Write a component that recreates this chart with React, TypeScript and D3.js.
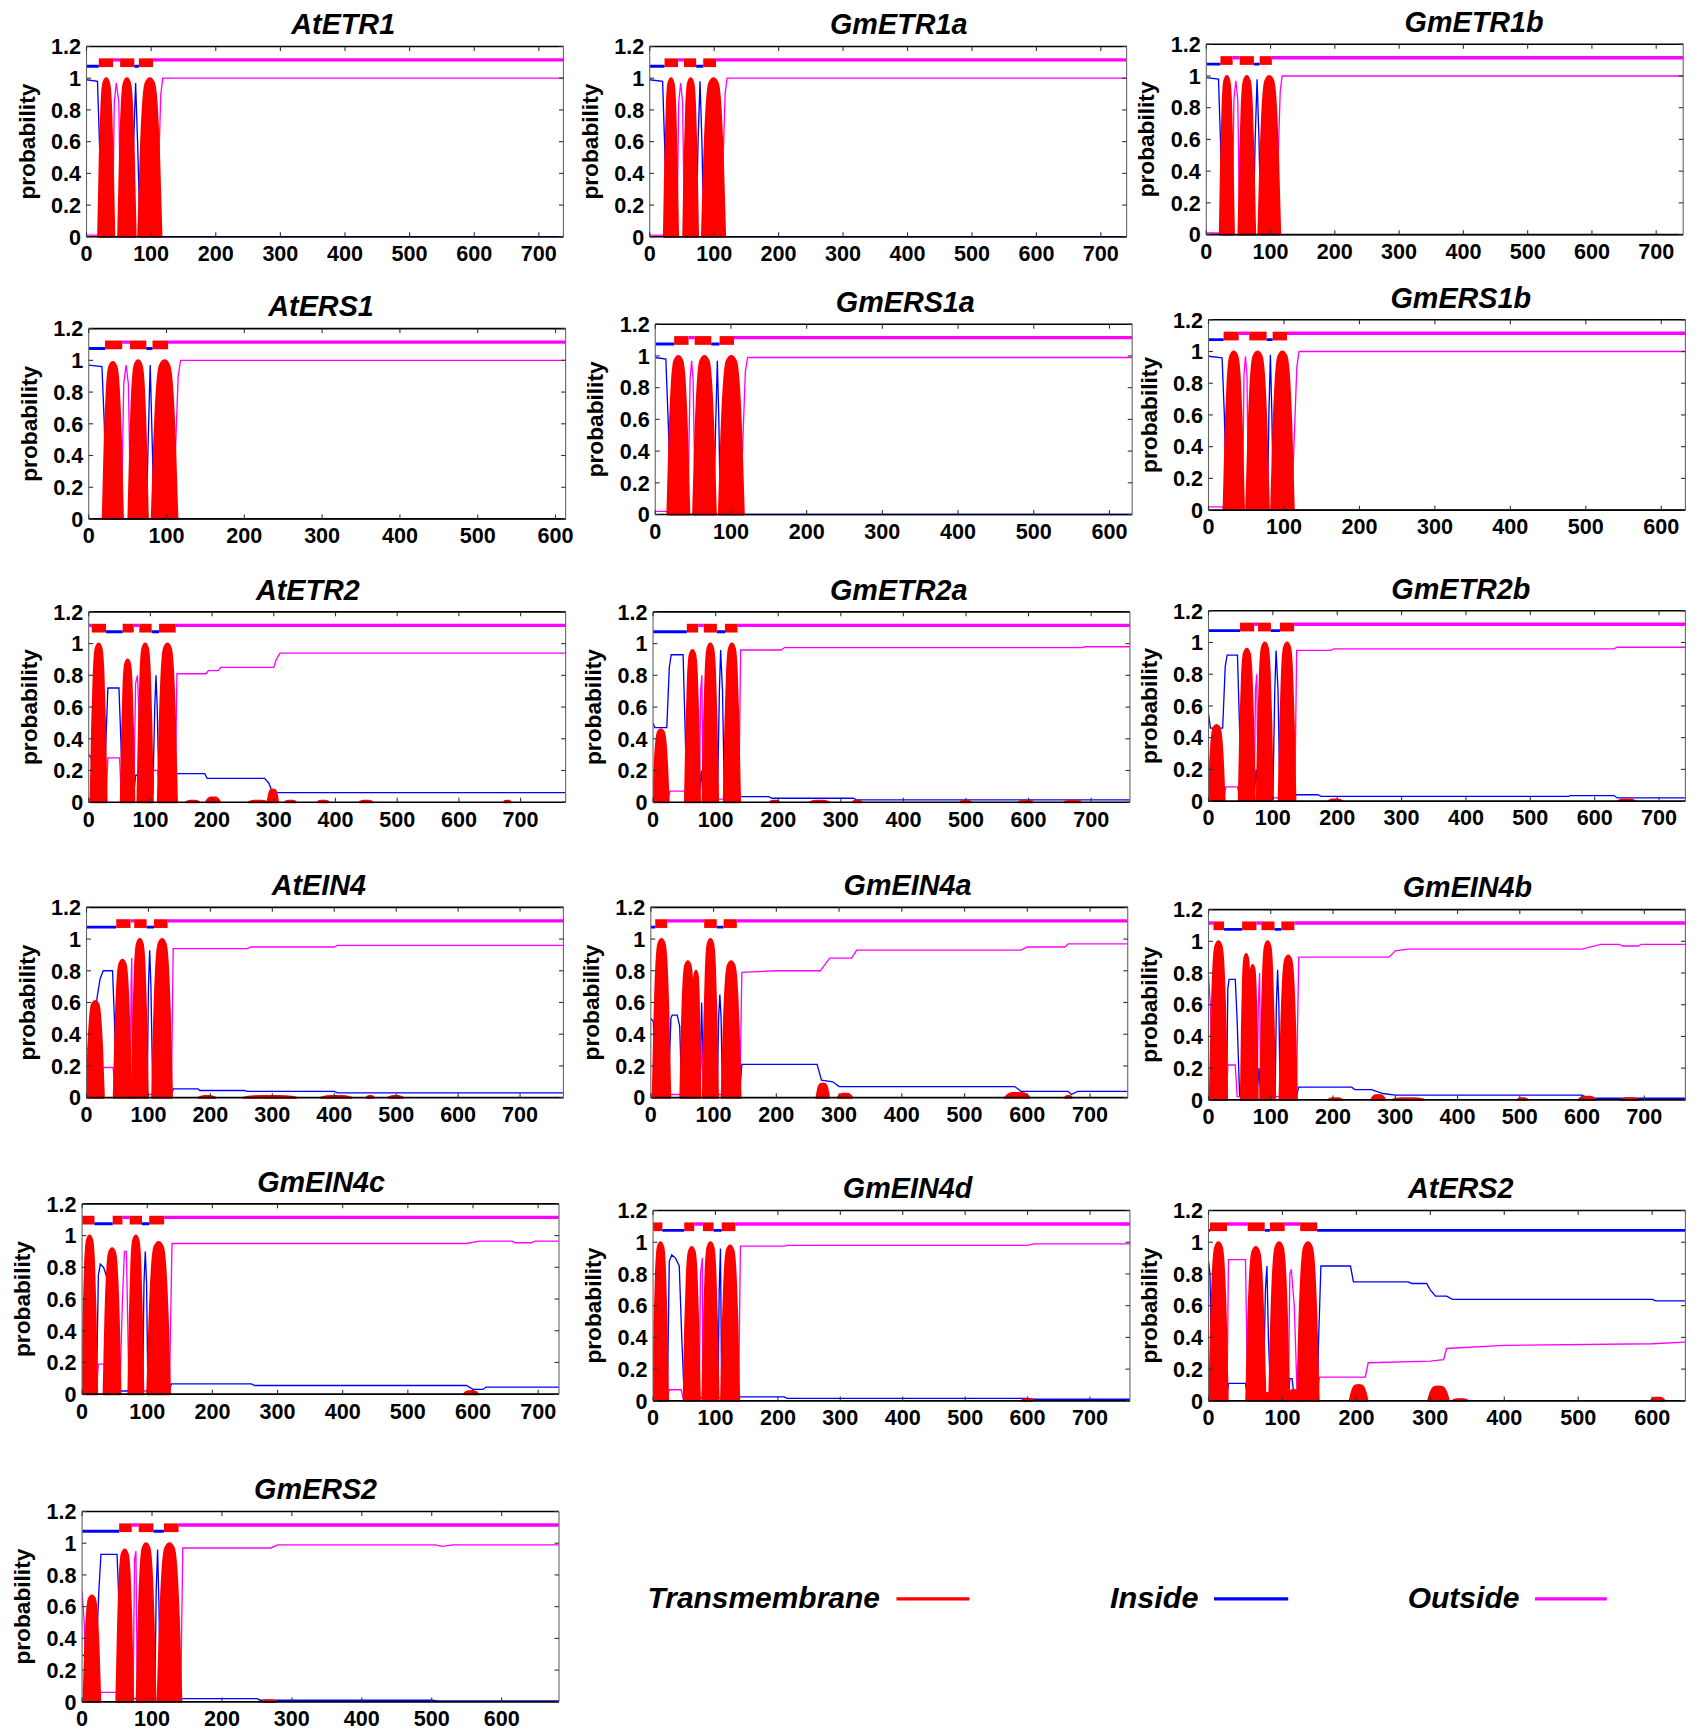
import React from "react";
import * as d3 from "d3";

// ---------------- DATA ----------------
const NAMES = ["AtETR1","GmETR1a","GmETR1b","AtERS1","GmERS1a","GmERS1b","AtETR2","GmETR2a","GmETR2b","AtEIN4","GmEIN4a","GmEIN4b","GmEIN4c","GmEIN4d","AtERS2","GmERS2"];
const LENGTHS = [738, 740, 742, 613, 630, 632, 773, 762, 741, 770, 760, 766, 732, 764, 645, 682];
const Y_TICKS = [0, 0.2, 0.4, 0.6, 0.8, 1, 1.2];

// predicted topology: [start, end, kind]  i = inside, o = outside, M = transmembrane
const TOPOLOGY: [number, number, string][][] = [
  [[0,19,"i"],[19,41,"M"],[41,52,"o"],[52,74,"M"],[74,81,"i"],[81,103,"M"],[103,738,"o"]],
  [[0,23,"i"],[23,44,"M"],[44,53,"o"],[53,72,"M"],[72,83,"i"],[83,103,"M"],[103,740,"o"]],
  [[0,22,"i"],[22,41,"M"],[41,52,"o"],[52,74,"M"],[74,83,"i"],[83,102,"M"],[102,742,"o"]],
  [[0,21,"i"],[21,43,"M"],[43,53,"o"],[53,74,"M"],[74,82,"i"],[82,102,"M"],[102,613,"o"]],
  [[0,25,"i"],[25,44,"M"],[44,52,"o"],[52,74,"M"],[74,85,"i"],[85,104,"M"],[104,630,"o"]],
  [[0,20,"i"],[20,40,"M"],[40,54,"o"],[54,77,"M"],[77,85,"i"],[85,104,"M"],[104,632,"o"]],
  [[0,5,"o"],[5,28,"M"],[28,55,"i"],[55,73,"M"],[73,82,"o"],[82,102,"M"],[102,114,"i"],[114,141,"M"],[141,773,"o"]],
  [[0,54,"i"],[54,72,"M"],[72,81,"o"],[81,102,"M"],[102,115,"i"],[115,135,"M"],[135,762,"o"]],
  [[0,49,"i"],[49,71,"M"],[71,77,"o"],[77,97,"M"],[97,111,"i"],[111,133,"M"],[133,741,"o"]],
  [[0,48,"i"],[48,71,"M"],[71,77,"o"],[77,97,"M"],[97,109,"i"],[109,131,"M"],[131,770,"o"]],
  [[0,7,"i"],[7,26,"M"],[26,85,"o"],[85,105,"M"],[105,116,"i"],[116,137,"M"],[137,760,"o"]],
  [[0,8,"o"],[8,25,"M"],[25,54,"i"],[54,77,"M"],[77,85,"o"],[85,106,"M"],[106,117,"i"],[117,138,"M"],[138,766,"o"]],
  [[0,19,"M"],[19,47,"i"],[47,62,"M"],[62,73,"o"],[73,92,"M"],[92,103,"i"],[103,126,"M"],[126,732,"o"]],
  [[0,15,"M"],[15,50,"i"],[50,66,"M"],[66,80,"o"],[80,97,"M"],[97,110,"i"],[110,132,"M"],[132,764,"o"]],
  [[0,2,"i"],[2,25,"M"],[25,53,"o"],[53,76,"M"],[76,83,"i"],[83,103,"M"],[103,124,"o"],[124,147,"M"],[147,645,"i"]],
  [[0,53,"i"],[53,71,"M"],[71,81,"o"],[81,102,"M"],[102,117,"i"],[117,138,"M"],[138,682,"o"]],
];

// transmembrane posterior humps: [start, end, peak probability]
const TM_PROB: [number, number, number][][] = [
  [[18,43,1],[49,76,1],[80,116,1]],
  [[22,44,1],[52,75,1],[81,117,1]],
  [[21,43,1],[50,76,1],[81,115,1]],
  [[18,44,0.99],[51,76,1],[81,114,1]],
  [[16,45,1],[50,80,1],[84,117,1]],
  [[20,47,1],[50,80,1],[83,113,1]],
  [[3,29,1],[52,74,0.9],[79,104,1],[112,143,1],[158,179,0.01],[190,213,0.03],[259,290,0.01],[290,307,0.08],[318,336,0.01],[371,389,0.01],[439,460,0.01],[673,684,0.01]],
  [[0,25,0.46],[51,75,0.96],[79,104,1],[113,139,1],[187,202,0.01],[251,281,0.01],[319,333,0.01],[491,508,0.01],[585,607,0.01],[658,684,0.01]],
  [[0,25,0.48],[47,72,0.96],[75,100,1],[109,135,1],[186,208,0.01],[636,663,0.01]],
  [[0,28,0.61],[44,72,0.87],[73,99,1],[106,138,1],[181,208,0.01],[253,339,0.01],[378,428,0.01],[452,464,0.01],[487,511,0.01]],
  [[3,31,1],[47,71,0.86],[65,79,0.8],[83,107,1],[113,143,0.86],[264,284,0.09],[298,321,0.025],[564,604,0.03],[660,671,0.01]],
  [[2,30,1],[52,69,0.92],[63,79,0.85],[83,107,1],[114,142,0.91],[192,215,0.01],[261,284,0.03],[295,347,0.01],[496,513,0.01],[594,622,0.02],[662,691,0.01]],
  [[0,23,1],[33,59,0.92],[71,94,1],[100,135,0.96],[586,608,0.02]],
  [[0,24,1],[49,75,0.97],[79,105,1],[109,138,0.98],[590,610,0.01]],
  [[1,26,1],[51,77,0.97],[76,84,0.05],[82,109,1],[108,122,0.07],[120,149,1],[191,215,0.1],[297,325,0.09],[330,351,0.01],[598,617,0.02]],
  [[2,26,0.67],[49,73,0.96],[78,105,1],[108,142,1],[257,278,0.01]],
];

// inside posterior probability: [residue, probability]
const INSIDE: [number, number][][] = [
  [[0,0.99],[17,0.98],[20,0.6],[24,0],[70,0],[73,0.6],[76,0.97],[79,0.6],[83,0],[738,0]],
  [[0,0.99],[20,0.98],[23,0.6],[27,0],[72,0],[75,0.6],[78,0.98],[81,0.6],[84,0],[740,0]],
  [[0,0.99],[19,0.98],[22,0.6],[26,0],[73,0],[76,0.6],[79,0.98],[82,0.6],[85,0],[742,0]],
  [[0,0.97],[17,0.96],[20,0.6],[23,0],[74,0],[77,0.6],[79,0.97],[81,0.6],[84,0],[613,0]],
  [[0,0.99],[14,0.98],[17,0.6],[21,0],[77,0],[80,0.6],[82,0.97],[84,0.6],[86,0],[630,0]],
  [[0,0.97],[18,0.96],[21,0.6],[24,0],[78,0],[80,0.6],[82,0.98],[84,0.6],[86,0],[632,0]],
  [[0,0.3],[4,0.28],[8,0.05],[24,0.05],[28,0.4],[31,0.72],[49,0.72],[52,0.4],[55,0.05],[73,0.05],[76,0.17],[79,0.17],[82,0.05],[104,0.05],[107,0.6],[109,0.8],[111,0.6],[114,0.05],[139,0.05],[142,0.18],[188,0.18],[192,0.15],[285,0.15],[292,0.12],[298,0.06],[773,0.06]],
  [[0,0.5],[3,0.47],[22,0.47],[26,0.85],[29,0.93],[48,0.93],[51,0.5],[54,0.03],[74,0.03],[77,0.2],[80,0.03],[103,0.03],[106,0.7],[108,0.96],[111,0.7],[114,0.03],[137,0.03],[140,0.035],[185,0.035],[190,0.025],[320,0.025],[325,0.015],[762,0.015]],
  [[0,0.55],[3,0.46],[22,0.46],[26,0.85],[29,0.92],[45,0.92],[48,0.5],[51,0.03],[71,0.03],[74,0.2],[77,0.03],[100,0.03],[103,0.7],[105,0.95],[108,0.7],[111,0.03],[134,0.03],[137,0.04],[170,0.04],[175,0.03],[560,0.03],[562,0.035],[630,0.035],[635,0.02],[741,0.02]],
  [[0,0.31],[10,0.31],[17,0.63],[22,0.75],[27,0.8],[42,0.8],[45,0.5],[48,0.02],[71,0.02],[73,0.1],[75,0.02],[98,0.02],[100,0.7],[102,0.93],[104,0.7],[107,0.02],[137,0.02],[140,0.055],[180,0.055],[183,0.045],[255,0.045],[260,0.04],[400,0.04],[405,0.03],[770,0.03]],
  [[0,0.5],[4,0.48],[8,0.05],[28,0.05],[32,0.5],[34,0.52],[42,0.52],[46,0.45],[49,0.05],[78,0.05],[81,0.6],[84,0.05],[106,0.05],[108,0.5],[110,0.65],[112,0.5],[114,0.05],[142,0.05],[145,0.21],[265,0.21],[272,0.11],[290,0.1],[300,0.07],[580,0.07],[590,0.04],[665,0.04],[670,0.02],[680,0.04],[760,0.04]],
  [[0,0.02],[29,0.02],[31,0.7],[33,0.76],[43,0.76],[46,0.5],[50,0.02],[78,0.02],[81,0.2],[84,0.02],[107,0.02],[109,0.6],[111,0.82],[113,0.6],[115,0.02],[141,0.02],[145,0.08],[230,0.08],[235,0.065],[262,0.065],[280,0.04],[300,0.03],[600,0.03],[610,0.01],[766,0.01]],
  [[0,0.02],[22,0.02],[25,0.75],[28,0.82],[33,0.8],[37,0.75],[40,0.7],[44,0.3],[48,0.02],[93,0.02],[95,0.7],[97,0.9],[99,0.7],[101,0.02],[134,0.02],[137,0.065],[260,0.065],[265,0.055],[590,0.055],[600,0.03],[615,0.03],[620,0.045],[732,0.045]],
  [[0,0.02],[23,0.02],[26,0.88],[30,0.92],[36,0.9],[42,0.85],[46,0.4],[50,0.02],[104,0.02],[106,0.7],[108,0.96],[110,0.02],[137,0.02],[140,0.025],[210,0.025],[215,0.015],[600,0.015],[610,0.01],[764,0.01]],
  [[0,0.88],[2,0.8],[5,0.02],[25,0.02],[27,0.11],[50,0.11],[53,0.02],[74,0.02],[77,0.7],[79,0.85],[81,0.4],[84,0.02],[108,0.02],[110,0.14],[113,0.14],[116,0.02],[147,0.02],[149,0.4],[152,0.85],[192,0.85],[196,0.75],[270,0.75],[275,0.74],[295,0.74],[300,0.7],[307,0.66],[322,0.66],[330,0.64],[600,0.64],[605,0.63],[645,0.63]],
  [[0,0.3],[5,0.28],[20,0.28],[24,0.7],[27,0.93],[50,0.93],[53,0.6],[56,0.02],[104,0.02],[106,0.7],[108,0.96],[110,0.6],[112,0.02],[141,0.02],[144,0.02],[250,0.02],[255,0.01],[500,0.01],[510,0.005],[682,0.005]],
];

// outside posterior probability: [residue, probability]
const OUTSIDE: [number, number][][] = [
  [[0,0.01],[18,0.01],[22,0],[40,0],[43,0.85],[46,0.97],[50,0.85],[53,0],[108,0],[112,0.5],[115,0.9],[118,1],[738,1]],
  [[0,0.01],[20,0.01],[24,0],[42,0],[45,0.85],[48,0.97],[51,0.85],[54,0],[110,0],[114,0.5],[117,0.9],[120,1],[740,1]],
  [[0,0.01],[20,0.01],[24,0],[40,0],[43,0.85],[46,0.97],[49,0.85],[52,0],[108,0],[112,0.5],[115,0.9],[118,1],[742,1]],
  [[0,0],[42,0],[45,0.85],[48,0.97],[51,0.85],[54,0],[108,0],[112,0.5],[115,0.9],[118,1],[613,1]],
  [[0,0.02],[15,0.02],[19,0],[43,0],[46,0.85],[48,0.97],[50,0.85],[53,0],[112,0],[116,0.5],[119,0.9],[122,0.99],[630,0.99]],
  [[0,0.02],[18,0.02],[22,0],[45,0],[47,0.85],[49,0.97],[51,0.85],[53,0],[110,0],[114,0.5],[117,0.9],[120,1],[632,1]],
  [[0,0.02],[28,0.02],[31,0.28],[50,0.28],[53,0.02],[73,0.02],[76,0.75],[79,0.8],[81,0.6],[84,0.02],[102,0.02],[105,0.2],[112,0.2],[115,0.02],[140,0.02],[143,0.81],[190,0.81],[194,0.83],[210,0.83],[214,0.85],[300,0.85],[304,0.9],[310,0.94],[773,0.94]],
  [[0,0.02],[24,0.02],[27,0.07],[50,0.07],[53,0.02],[74,0.02],[76,0.7],[78,0.8],[80,0.02],[137,0.02],[140,0.96],[205,0.96],[210,0.975],[685,0.975],[690,0.98],[762,0.98]],
  [[0,0.02],[24,0.02],[27,0.09],[45,0.09],[48,0.02],[71,0.02],[73,0.7],[75,0.8],[77,0.02],[134,0.02],[137,0.95],[190,0.95],[195,0.96],[630,0.96],[635,0.97],[741,0.97]],
  [[0,0.06],[22,0.06],[25,0.19],[43,0.19],[46,0.02],[71,0.02],[72,0.7],[73,0.88],[75,0.02],[137,0.02],[140,0.94],[260,0.94],[265,0.95],[400,0.95],[405,0.96],[770,0.96]],
  [[0,0.02],[78,0.02],[81,0.35],[84,0.02],[142,0.02],[145,0.79],[200,0.8],[270,0.8],[285,0.88],[320,0.88],[328,0.93],[590,0.93],[600,0.95],[660,0.95],[665,0.97],[760,0.97]],
  [[0,0.78],[3,0.6],[7,0.02],[29,0.02],[31,0.22],[43,0.22],[46,0.02],[78,0.02],[80,0.6],[82,0.8],[84,0.02],[141,0.02],[145,0.9],[290,0.9],[300,0.94],[320,0.95],[600,0.95],[630,0.98],[660,0.98],[665,0.97],[690,0.97],[695,0.98],[766,0.98]],
  [[0,0.02],[22,0.02],[25,0.19],[36,0.19],[40,0.02],[58,0.02],[62,0.6],[65,0.9],[68,0.9],[72,0.02],[134,0.02],[138,0.95],[590,0.95],[610,0.965],[660,0.965],[665,0.955],[690,0.955],[695,0.965],[732,0.965]],
  [[0,0.02],[23,0.02],[26,0.07],[45,0.07],[48,0.02],[74,0.02],[76,0.8],[79,0.9],[80,0.02],[137,0.02],[140,0.975],[210,0.975],[215,0.98],[600,0.98],[610,0.99],[764,0.99]],
  [[0,0.02],[25,0.02],[27,0.89],[50,0.89],[53,0.02],[108,0.02],[110,0.8],[112,0.83],[116,0.6],[120,0.02],[147,0.02],[150,0.15],[212,0.15],[216,0.24],[300,0.25],[318,0.26],[322,0.33],[400,0.35],[600,0.36],[645,0.37]],
  [[0,0.7],[3,0.5],[6,0.02],[24,0.02],[27,0.06],[50,0.06],[53,0.02],[73,0.02],[75,0.9],[77,0.95],[79,0.02],[141,0.02],[144,0.97],[270,0.97],[280,0.99],[505,0.99],[515,0.98],[530,0.99],[682,0.99]],
];

const LEGEND = [
  { label: "Transmembrane", color: "#ff0000" },
  { label: "Inside", color: "#0000ff" },
  { label: "Outside", color: "#ff00ff" },
];

// ---------------- LAYOUT / STYLE (view units, 1536 x 1568) ----------------
const VIEW_W = 1536;
const VIEW_H = 1568;
const PLOT_W = 431;
const PLOT_H = 172;
const PANEL_POS: [number, number][] = [
  [78, 42], [587, 42], [1090, 40],
  [80, 297], [592, 293], [1092, 289],
  [80, 553], [590, 553], [1092, 552],
  [78, 820], [588, 820], [1092, 822],
  [74, 1088], [590, 1094], [1092, 1094],
  [74, 1366],
];
const TITLE_X = [310, 812, 1332, 290, 818, 1320, 278, 812, 1320, 288, 820, 1326, 290, 820, 1320, 285];
const LEGEND_POS = [
  { tx: 585, tw: 210, lx1: 810, lx2: 876 },
  { tx: 1003, tw: 80, lx1: 1097, lx2: 1164 },
  { tx: 1272, tw: 101, lx1: 1387, lx2: 1452 },
];
const LEGEND_Y = 1444;
const FONT = "'Liberation Sans', Arial, Helvetica, sans-serif";
// dome outline used to draw each transmembrane hump (fraction of width, fraction of peak)
const HUMP_SHAPE: [number, number][] = [[0,0],[0.1,0.5],[0.2,0.82],[0.32,0.97],[0.5,1],[0.68,0.97],[0.8,0.82],[0.9,0.5],[1,0]];

const COLORS: Record<string, string> = { i: "#0000ff", o: "#ff00ff", M: "#ff0000" };

function Panel({ idx }: { idx: number }) {
  const [left, top] = PANEL_POS[idx];
  const len = LENGTHS[idx];
  const x = d3.scaleLinear().domain([0, len]).range([left, left + PLOT_W]);
  const y = d3.scaleLinear().domain([0, 1.2]).range([top + PLOT_H, top]);
  const line = d3.line<[number, number]>().x((d) => x(d[0])).y((d) => y(d[1]));
  const hump = d3
    .area<[number, number]>()
    .x((d) => x(d[0]))
    .y0(y(0))
    .y1((d) => y(d[1]))
    .curve(d3.curveMonotoneX);
  const xTicks = d3.range(0, len + 1, 100);
  const bottom = top + PLOT_H;
  const right = left + PLOT_W;
  const clipId = `clip${idx}`;
  const fmt = (v: number) => String(+v.toFixed(1));

  return (
    <g>
      <defs>
        <clipPath id={clipId}>
          <rect x={left} y={top - 2} width={PLOT_W} height={PLOT_H + 4} />
        </clipPath>
      </defs>
      <text x={TITLE_X[idx]} y={top - 11} textAnchor="middle" fontFamily={FONT} fontWeight="bold" fontStyle="italic" fontSize={26} fill="#000">
        {NAMES[idx]}
      </text>
      <g clipPath={`url(#${clipId})`}>
        <path d={line(INSIDE[idx]) || ""} fill="none" stroke="#0000ff" strokeWidth={1.2} />
        <path d={line(OUTSIDE[idx]) || ""} fill="none" stroke="#ff00ff" strokeWidth={1.2} />
        {TM_PROB[idx].map(([s, e, p], k) => {
          const pts: [number, number][] = HUMP_SHAPE.map(([fx, fy]) => [s + (e - s) * fx, p * fy]);
          return (
            <path key={k} d={hump(pts) || ""} fill="#ff0000" stroke="#ff0000" strokeWidth={1.8} strokeLinejoin="round" />
          );
        })}
        {TOPOLOGY[idx].map(([s, e, kind], k) =>
          kind === "M" ? (
            <rect key={k} x={x(s)} y={y(1.125)} width={x(e) - x(s)} height={y(1.07) - y(1.125)} fill="#ff0000" />
          ) : (
            <line key={k} x1={x(s)} x2={x(e)} y1={y(kind === "i" ? 1.075 : 1.115)} y2={y(kind === "i" ? 1.075 : 1.115)} stroke={COLORS[kind]} strokeWidth={kind === "i" ? 2.6 : 3} />
          )
        )}
      </g>
      {/* frame */}
      <line x1={left} x2={right} y1={top} y2={top} stroke="#000" strokeWidth={1.5} />
      <line x1={left} x2={right} y1={bottom} y2={bottom} stroke="#000" strokeWidth={1.5} />
      <line x1={left} x2={left} y1={top} y2={bottom} stroke="#666" strokeWidth={1} />
      <line x1={right} x2={right} y1={top} y2={bottom} stroke="#666" strokeWidth={1} />
      {Y_TICKS.map((v) => (
        <g key={`y${v}`}>
          <line x1={left} x2={left + 4} y1={y(v)} y2={y(v)} stroke="#333" strokeWidth={1} />
          <line x1={right - 4} x2={right} y1={y(v)} y2={y(v)} stroke="#333" strokeWidth={1} />
          <text x={left - 5} y={y(v) + 7} textAnchor="end" fontFamily={FONT} fontWeight="bold" fontSize={19.5} fill="#000">
            {fmt(v)}
          </text>
        </g>
      ))}
      {xTicks.map((v) => (
        <g key={`x${v}`}>
          <line x1={x(v)} x2={x(v)} y1={bottom} y2={bottom - 4} stroke="#333" strokeWidth={1} />
          <line x1={x(v)} x2={x(v)} y1={top} y2={top + 4} stroke="#333" strokeWidth={1} />
          <text x={x(v)} y={bottom + 22} textAnchor="middle" fontFamily={FONT} fontWeight="bold" fontSize={19.5} fill="#000">
            {v}
          </text>
        </g>
      ))}
      <text
        transform={`translate(${left - 47}, ${top + PLOT_H / 2}) rotate(-90)`}
        textAnchor="middle"
        fontFamily={FONT}
        fontWeight="bold"
        fontSize={20.5}
        fill="#000"
      >
        probability
      </text>
    </g>
  );
}

export default function App() {
  return (
    <div style={{ position: "absolute", left: 0, top: 0, background: "#fff" }}>
      <svg width={1700} height={1735} viewBox={`0 0 ${VIEW_W} ${VIEW_H}`} style={{ display: "block", background: "#fff" }}>
        <rect x={0} y={0} width={VIEW_W} height={VIEW_H} fill="#fff" />
        {NAMES.map((_, i) => (
          <Panel key={i} idx={i} />
        ))}
        {LEGEND.map((l, i) => (
          <g key={l.label}>
            <text x={LEGEND_POS[i].tx} y={LEGEND_Y + 9} textLength={LEGEND_POS[i].tw} lengthAdjust="spacingAndGlyphs" fontFamily={FONT} fontWeight="bold" fontStyle="italic" fontSize={26} fill="#000">
              {l.label}
            </text>
            <line x1={LEGEND_POS[i].lx1} x2={LEGEND_POS[i].lx2} y1={LEGEND_Y + 1} y2={LEGEND_Y + 1} stroke={l.color} strokeWidth={3} />
          </g>
        ))}
      </svg>
    </div>
  );
}
